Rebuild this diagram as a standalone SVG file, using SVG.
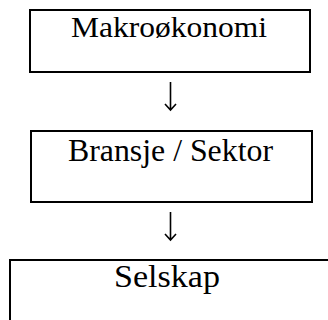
<svg xmlns="http://www.w3.org/2000/svg" width="328" height="320" viewBox="0 0 328 320">
<style>
.box{fill:#fff;stroke:#000;stroke-width:2}
.lbl{font-family:"Liberation Serif","Times New Roman",serif;font-size:30px;fill:#000;text-anchor:middle}
.conn{fill:none;stroke:#000;stroke-width:1.6}
</style>
<rect width="328" height="320" fill="#fff"/>
<g id="node-makro">
<rect class="box" x="30" y="10" width="280" height="62"/>
<text class="lbl" x="169" y="37" style="font-size:29px" textLength="196" lengthAdjust="spacingAndGlyphs">Makroøkonomi</text>
</g>
<g id="node-bransje">
<rect class="box" x="31" y="131" width="281" height="71"/>
<text class="lbl" x="170.5" y="161" style="font-size:31px" textLength="205" lengthAdjust="spacingAndGlyphs">Bransje / Sektor</text>
</g>
<g id="node-selskap">
<rect class="box" x="10" y="260" width="330" height="70"/>
<text class="lbl" x="167" y="287" style="font-size:32px" textLength="106" lengthAdjust="spacingAndGlyphs">Selskap</text>
</g>
<g id="connectors">
<path class="conn" d="M170.5 82V109.5M165 104L170.5 110L176 104"/>
<path class="conn" d="M170.5 212V239.5M165 234L170.5 240L176 234"/>
</g>
</svg>
